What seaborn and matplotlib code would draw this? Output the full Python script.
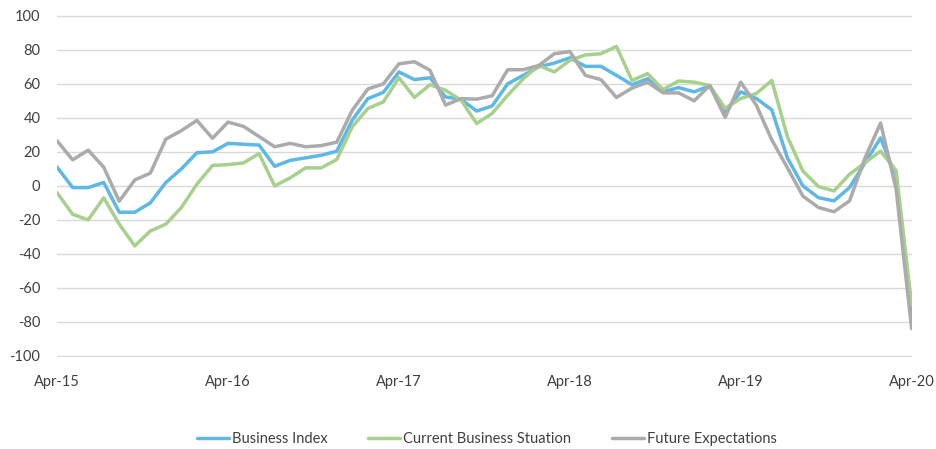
import pandas as pd
import matplotlib
matplotlib.use("Agg")
import matplotlib.pyplot as plt
import seaborn as sns

# Values (56 points, labels every 11th point)
business_index = [11, -1, -1, 2, -15.5, -15.5, -10, 2, 10, 19.5,
                  20, 25, 24.5, 24, 11.5, 15, 16.5, 18, 20.4, 38.7,
                  51.3, 55, 67, 62.5, 63.6, 52.3, 51, 44, 47, 60,
                  65, 70, 72.2, 75.3, 70.3, 70.3, 65, 59.5, 63, 55.3,
                  57.8, 55.3, 58.8, 43.6, 55.3, 51.4, 44.7, 16.5, 0, -6.9,
                  -8.8, -1, 13.6, 28.2, 5, -76]
current_situation = [-4, -16.7, -20, -7, -22.5, -35.3, -26.5, -22.5, -12.7, 1,
                     12, 12.5, 13.5, 19, 0, 4.7, 10.6, 10.6, 15.5, 34.8,
                     45.5, 49.4, 63.6, 52, 59.5, 56.2, 50.4, 36.7, 42.6, 53.3,
                     63, 70.8, 67, 73.8, 77, 77.7, 82, 62, 66, 56.7,
                     61.7, 61, 59, 45.6, 51.4, 54.3, 62, 29, 8.7, -0.4,
                     -3, 6.8, 13.6, 20.4, 9, -70]
future_expectations = [26.5, 15.3, 21, 11, -9, 3.5, 7.5, 27.5, 32.5, 38.5,
                       28, 37.5, 35, 29, 23, 25, 23, 23.7, 25.7, 44.5,
                       57, 60, 71.8, 73, 68, 47.5, 51.3, 51, 53, 68.3,
                       68.3, 70.8, 77.7, 79, 65, 62.5, 52, 57.5, 61, 54.7,
                       54.7, 50, 59, 40.3, 61, 47.5, 27, 10.7, -6, -12.7,
                       -15.2, -8.8, 16.5, 37, -2, -84]

tick_labels = ["Apr-15", "Apr-16", "Apr-17", "Apr-18", "Apr-19", "Apr-20"]
series_names = ["Business Index", "Current Business Stuation", "Future Expectations"]
colors = ["#5DB8E6", "#A8D08D", "#ABABAB"]

n = len(business_index)
df = pd.DataFrame({
    "idx": list(range(n)) * 3,
    "value": business_index + current_situation + future_expectations,
    "series": [series_names[0]] * n + [series_names[1]] * n + [series_names[2]] * n,
})

sns.set_style("white")
plt.rcParams["font.family"] = ["Lato", "DejaVu Sans"]
plt.rcParams["axes.unicode_minus"] = False

fig = plt.figure(figsize=(9.36, 4.49), dpi=100)
ax = fig.add_axes([0.061, 0.205, 0.913, 0.762])

sns.lineplot(data=df, x="idx", y="value", hue="series", palette=colors,
             linewidth=2.5, ax=ax, legend=True)

ax.set_xlim(0, n - 1)
ax.set_ylim(-100.6, 100.6)
ax.set_yticks(range(-100, 101, 20))
ax.set_xticks(range(0, n, 11))
ax.set_xticklabels(tick_labels)
ax.set_xlabel("")
ax.set_ylabel("")
ax.grid(axis="y", color="#D9D9D9", linewidth=1)
ax.set_axisbelow(True)
for s in ax.spines.values():
    s.set_visible(False)
ax.tick_params(axis="both", length=0, labelsize=10.5, colors="#404040")
ax.tick_params(axis="x", pad=13)
ax.tick_params(axis="y", pad=12)

handles, labels = ax.get_legend_handles_labels()
ax.get_legend().remove()
fig.legend(handles, labels, loc="lower center", bbox_to_anchor=(0.52, -0.022),
           ncol=3, frameon=False, fontsize=10.5, handlelength=2.2,
           handletextpad=0.2, columnspacing=2.8, labelcolor="#404040")

fig.savefig("out.png", dpi=100)
